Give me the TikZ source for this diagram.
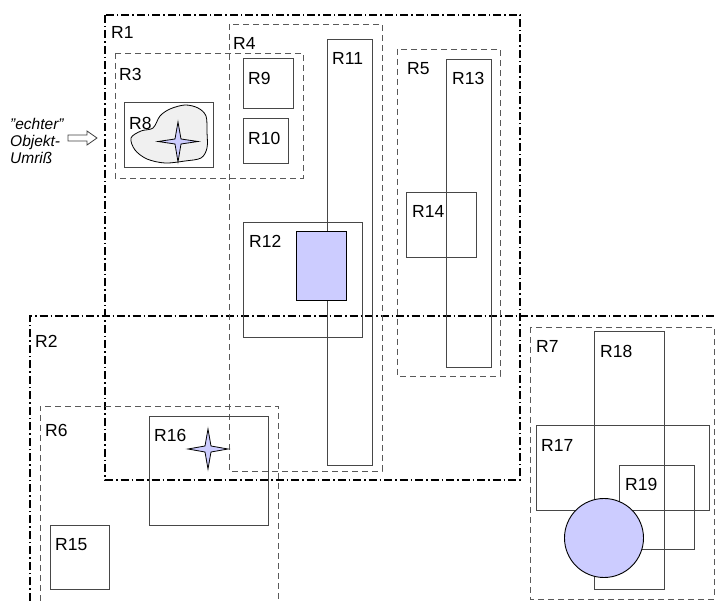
\documentclass[tikz,border=0pt]{standalone}
\usepackage{fontspec}
\setmainfont{Liberation Sans}
\begin{document}
\begin{tikzpicture}[x=1pt,y=-1pt,
  lbl/.style={anchor=base west,inner sep=0pt,font=\fontsize{17.5}{20}\selectfont},
  itl/.style={anchor=base west,inner sep=0pt,font=\fontsize{15.5}{17}\selectfont\itshape},
  solidbox/.style={draw=black!72,line width=0.9pt},
  dashbox/.style={draw=black!65,line width=0.9pt,dash pattern=on 6pt off 4pt},
  dashdot/.style={draw=black,line width=2pt,dash pattern=on 8pt off 3pt on 1.5pt off 3pt},
  lav/.style={fill=blue!20,draw=black,line width=0.9pt}]
\useasboundingbox (0,0) rectangle (716,601);
% R1, R2
\draw[dashdot] (105,15) rectangle (520,480);
\draw[dashdot] (30,601) -- (30,316) -- (716,316);
% dashed groups
\draw[dashbox] (115,53) rectangle (303,178);
\draw[dashbox] (229,24) rectangle (382,471);
\draw[dashbox] (397,49) rectangle (500,376);
\draw[dashbox] (40,601) -- (40,406) -- (278,406) -- (278,601);
\draw[dashbox] (530,327) rectangle (714,599);
% solid boxes
\draw[solidbox] (243,58) rectangle (293,108);
\draw[solidbox] (243,118) rectangle (288,163);
\draw[solidbox] (124,102) rectangle (213,167);
\draw[solidbox] (327,39) rectangle (372,465);
\draw[solidbox] (243,222) rectangle (362,337);
\draw[lav] (296,231) rectangle (346,300);
\draw[solidbox] (446,59) rectangle (491,367);
\draw[solidbox] (406,192) rectangle (476,257);
\draw[solidbox] (149,416) rectangle (268,525);
\draw[solidbox] (50,525) rectangle (109,589);
\draw[solidbox] (594,331) rectangle (664,589);
\draw[solidbox] (536,425) rectangle (709,510);
\draw[solidbox] (619,465) rectangle (694,549);
\draw[lav] (604,538) circle (39.5);
% blob in R8
\draw[fill=black!6,line width=0.8pt] plot[smooth cycle,tension=0.55] coordinates
  {(153,128) (160,116) (170,109) (185,105) (198,108) (206,116) (207,132) (207,148) (201,158) (185,161) (165,163) (147,159) (135,150) (131,138) (141,131)};
% stars
\draw[lav,line width=0.8pt] (178,122) -- (181,139) -- (198,141.5) -- (181,144) -- (178,162) -- (175,144) -- (158,141.5) -- (175,139) -- cycle;
\draw[lav,line width=0.8pt] (208,429) -- (211,446) -- (228,449) -- (211,452) -- (208,469) -- (205,452) -- (188,449) -- (205,446) -- cycle;
% hollow arrow
\draw[black!75,line width=0.8pt,fill=white] (68,135) -- (87,135) -- (87,131) -- (97,138) -- (87,145) -- (87,141) -- (68,141) -- cycle;
% italic annotation
\node[itl] (e1) at (10,130) {\symbol{34}echter\symbol{34}};
\node[itl] (e2) at (10,147) {Objekt-};
\node[itl] (e3) at (10,163.5) {Umriß};
% labels
\node[lbl] (l1) at (111,39) {R1};
\node[lbl] (l2) at (35,348) {R2};
\node[lbl] (l3) at (119,81) {R3};
\node[lbl] (l4) at (233,50) {R4};
\node[lbl] (l5) at (407,75) {R5};
\node[lbl] (l6) at (45,437) {R6};
\node[lbl] (l7) at (536,353) {R7};
\node[lbl] (l8) at (129,130) {R8};
\node[lbl] (l9) at (248,85) {R9};
\node[lbl] (l10) at (248,145) {R10};
\node[lbl] (l11) at (332,65) {R11};
\node[lbl] (l12) at (249,248) {R12};
\node[lbl] (l13) at (452,85) {R13};
\node[lbl] (l14) at (412,218) {R14};
\node[lbl] (l15) at (55,551) {R15};
\node[lbl] (l16) at (154,442) {R16};
\node[lbl] (l17) at (541,452) {R17};
\node[lbl] (l18) at (600,358) {R18};
\node[lbl] (l19) at (625,491) {R19};
\end{tikzpicture}
\end{document}
